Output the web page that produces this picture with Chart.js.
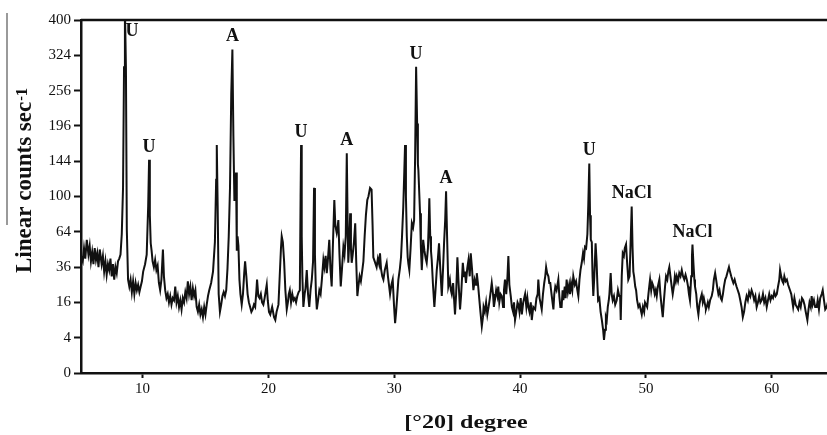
<!DOCTYPE html>
<html>
<head>
<meta charset="utf-8">
<script src="https://cdn.jsdelivr.net/npm/chart.js@4.4.0/dist/chart.umd.min.js"></script>
<style>
  html, body { margin: 0; padding: 0; background: #fff; }
  #wrap { width: 827px; height: 435px; }
</style>
</head>
<body>
<div id="wrap"><canvas id="xrdChart" width="827" height="435"></canvas></div>
<script>
// powder pattern, [2θ in degrees, counts per second]
const scan = [
  [5.11, 44], [5.25, 40], [5.35, 50], [5.45, 42], [5.57, 57], [5.7, 45], [5.8, 52], [5.9, 40],
  [6.0, 47], [6.1, 38], [6.2, 50], [6.3, 41], [6.4, 46], [6.5, 36], [6.6, 49], [6.75, 38],
  [6.85, 44], [6.95, 33], [7.05, 40], [7.15, 31], [7.25, 38], [7.35, 34], [7.45, 42], [7.55, 30],
  [7.65, 38], [7.75, 28], [7.85, 36], [7.95, 32], [8.05, 40], [8.15, 42], [8.25, 45], [8.35, 62],
  [8.45, 110], [8.53, 300], [8.6, 430], [8.68, 300], [8.75, 66], [8.85, 28], [8.95, 24], [9.05, 28],
  [9.15, 21], [9.25, 27], [9.35, 20], [9.45, 26], [9.55, 22], [9.65, 25], [9.75, 21], [9.85, 24],
  [9.95, 27], [10.05, 33], [10.2, 38], [10.33, 45], [10.45, 90], [10.52, 146], [10.58, 80], [10.65, 54],
  [10.72, 48], [10.8, 40], [10.9, 36], [11.0, 41], [11.1, 34], [11.2, 37], [11.3, 26], [11.4, 22],
  [11.5, 28], [11.62, 49], [11.7, 30], [11.8, 22], [11.9, 18], [12.0, 20], [12.1, 16], [12.2, 19],
  [12.3, 15], [12.4, 18], [12.5, 17], [12.6, 24], [12.7, 16], [12.8, 19], [12.9, 14], [13.0, 17],
  [13.1, 13], [13.2, 18], [13.3, 16], [13.4, 21], [13.5, 18], [13.6, 27], [13.7, 20], [13.8, 24],
  [13.9, 17], [14.0, 23], [14.1, 19], [14.2, 22], [14.3, 14], [14.4, 12], [14.5, 15], [14.6, 11],
  [14.7, 13], [14.8, 10], [14.9, 14], [15.0, 11], [15.1, 15], [15.2, 19], [15.3, 22], [15.45, 26],
  [15.6, 33], [15.75, 55], [15.85, 120], [15.9, 167], [15.97, 90], [16.05, 20], [16.15, 12], [16.25, 15],
  [16.35, 19], [16.45, 21], [16.55, 19], [16.65, 22], [16.75, 35], [16.85, 60], [16.95, 110], [17.05, 250],
  [17.14, 336], [17.22, 180], [17.3, 95], [17.38, 105], [17.43, 129], [17.49, 48], [17.55, 60], [17.62, 52],
  [17.7, 28], [17.78, 20], [17.88, 15], [17.98, 20], [18.08, 32], [18.15, 40], [18.25, 30], [18.35, 20],
  [18.45, 16], [18.55, 14], [18.65, 12], [18.75, 13], [18.85, 15], [18.95, 14], [19.05, 22], [19.1, 28],
  [19.2, 19], [19.3, 18], [19.4, 20], [19.5, 16], [19.6, 15], [19.7, 18], [19.8, 22], [19.87, 25],
  [19.95, 17], [20.05, 12], [20.15, 11], [20.3, 14], [20.45, 10], [20.55, 9], [20.65, 12], [20.8, 15],
  [20.9, 30], [21.0, 50], [21.06, 60], [21.15, 55], [21.25, 40], [21.35, 22], [21.46, 13], [21.55, 16],
  [21.62, 20], [21.7, 22], [21.8, 16], [21.9, 20], [22.0, 17], [22.1, 18], [22.2, 16], [22.3, 19],
  [22.4, 21], [22.5, 22], [22.56, 100], [22.6, 167], [22.65, 60], [22.7, 30], [22.78, 14], [22.88, 20],
  [22.95, 23], [23.05, 34], [23.15, 20], [23.25, 14], [23.35, 22], [23.45, 28], [23.55, 40], [23.63, 110],
  [23.7, 45], [23.78, 20], [23.85, 13], [23.95, 17], [24.05, 22], [24.15, 20], [24.25, 28], [24.37, 41],
  [24.45, 36], [24.55, 44], [24.64, 32], [24.72, 40], [24.84, 57], [24.93, 35], [25.03, 24], [25.12, 50],
  [25.24, 96], [25.32, 70], [25.43, 63], [25.5, 68], [25.56, 75], [25.65, 45], [25.75, 24], [25.85, 35],
  [25.96, 51], [26.05, 45], [26.15, 60], [26.23, 155], [26.3, 70], [26.35, 39], [26.43, 55], [26.5, 82],
  [26.56, 50], [26.62, 39], [26.7, 45], [26.8, 55], [26.9, 72], [26.98, 40], [27.07, 19], [27.15, 24],
  [27.25, 30], [27.35, 27], [27.45, 33], [27.55, 40], [27.65, 60], [27.75, 80], [27.86, 96], [27.95, 100],
  [28.08, 110], [28.2, 108], [28.28, 70], [28.34, 43], [28.45, 40], [28.6, 36], [28.7, 42], [28.8, 38],
  [28.87, 46], [28.95, 35], [29.05, 30], [29.14, 28], [29.25, 34], [29.4, 39], [29.5, 30], [29.6, 24],
  [29.67, 20], [29.78, 25], [29.88, 28], [29.98, 15], [30.07, 8], [30.15, 12], [30.25, 20], [30.33, 28],
  [30.45, 35], [30.54, 43], [30.62, 60], [30.72, 89], [30.8, 130], [30.86, 167], [30.93, 100], [31.0, 60],
  [31.07, 43], [31.13, 38], [31.2, 34], [31.3, 50], [31.4, 72], [31.5, 68], [31.58, 75], [31.66, 150],
  [31.74, 301], [31.82, 200], [31.88, 140], [31.92, 132], [32.0, 100], [32.05, 82], [32.12, 50], [32.19, 34],
  [32.25, 45], [32.3, 57], [32.4, 48], [32.5, 42], [32.58, 39], [32.68, 50], [32.75, 75], [32.79, 98],
  [32.86, 60], [32.92, 48], [32.98, 41], [33.08, 25], [33.19, 14], [33.28, 22], [33.38, 34], [33.47, 42],
  [33.56, 54], [33.66, 35], [33.78, 19], [33.88, 35], [33.96, 54], [34.05, 75], [34.12, 106], [34.2, 60],
  [34.3, 24], [34.42, 28], [34.5, 22], [34.57, 20], [34.68, 26], [34.75, 18], [34.83, 11], [34.92, 20],
  [35.02, 43], [35.1, 28], [35.23, 13], [35.32, 20], [35.45, 39], [35.55, 30], [35.62, 33], [35.7, 26],
  [35.8, 35], [35.9, 41], [36.0, 30], [36.08, 46], [36.18, 35], [36.29, 22], [36.4, 28], [36.5, 25],
  [36.56, 32], [36.65, 26], [36.74, 19], [36.85, 12], [36.96, 7], [37.05, 10], [37.1, 14], [37.2, 12],
  [37.3, 16], [37.4, 11], [37.5, 14], [37.6, 18], [37.68, 22], [37.75, 26], [37.85, 20], [37.92, 14],
  [38.0, 17], [38.1, 22], [38.2, 19], [38.27, 24], [38.35, 16], [38.45, 20], [38.55, 19], [38.65, 14],
  [38.72, 22], [38.8, 28], [38.9, 20], [39.0, 30], [39.07, 44], [39.15, 25], [39.26, 19], [39.35, 14],
  [39.45, 12], [39.52, 16], [39.6, 9], [39.7, 12], [39.8, 16], [39.87, 15], [39.95, 12], [40.05, 18],
  [40.14, 11], [40.25, 16], [40.4, 20], [40.5, 14], [40.58, 18], [40.66, 14], [40.75, 12], [40.85, 16],
  [40.93, 9], [41.05, 14], [41.2, 13], [41.3, 18], [41.4, 20], [41.45, 28], [41.55, 18], [41.65, 15],
  [41.72, 13], [41.82, 20], [41.92, 26], [42.0, 30], [42.07, 36], [42.15, 32], [42.25, 30], [42.32, 26],
  [42.4, 26], [42.5, 20], [42.58, 16], [42.65, 13], [42.72, 20], [42.8, 24], [42.9, 22], [43.04, 28],
  [43.12, 19], [43.2, 14], [43.3, 14], [43.38, 22], [43.44, 17], [43.55, 24], [43.62, 18], [43.7, 28],
  [43.8, 21], [43.9, 25], [43.97, 20], [44.05, 26], [44.15, 22], [44.23, 30], [44.35, 25], [44.45, 27],
  [44.55, 22], [44.63, 19], [44.72, 28], [44.8, 34], [44.9, 39], [45.0, 46], [45.08, 42], [45.16, 51],
  [45.25, 50], [45.35, 62], [45.42, 90], [45.5, 141], [45.56, 80], [45.62, 57], [45.7, 55], [45.76, 30],
  [45.82, 19], [45.9, 30], [46.0, 54], [46.08, 40], [46.14, 26], [46.2, 17], [46.3, 18], [46.4, 12],
  [46.5, 9], [46.6, 6], [46.67, 3.5], [46.75, 6], [46.82, 10], [46.89, 9], [46.97, 14], [47.05, 17],
  [47.1, 20], [47.2, 32], [47.28, 20], [47.36, 17], [47.46, 19], [47.56, 15], [47.68, 17], [47.78, 22],
  [47.88, 19], [47.95, 19], [48.0, 9], [48.08, 30], [48.16, 46], [48.25, 44], [48.32, 50], [48.42, 53],
  [48.5, 40], [48.6, 28], [48.7, 30], [48.8, 60], [48.87, 89], [48.94, 50], [49.0, 33], [49.06, 30],
  [49.15, 24], [49.22, 22], [49.3, 17], [49.4, 14], [49.5, 15], [49.58, 13], [49.67, 11], [49.76, 14],
  [49.86, 12], [49.93, 16], [50.0, 16], [50.1, 14], [50.2, 20], [50.28, 25], [50.33, 28], [50.42, 22],
  [50.5, 26], [50.6, 24], [50.7, 20], [50.78, 22], [50.86, 19], [50.95, 24], [51.07, 28], [51.15, 20],
  [51.25, 14], [51.34, 10], [51.42, 16], [51.52, 24], [51.6, 30], [51.7, 28], [51.78, 33], [51.86, 36],
  [51.95, 30], [52.05, 24], [52.13, 20], [52.22, 24], [52.3, 30], [52.38, 27], [52.45, 30], [52.55, 27],
  [52.65, 32], [52.75, 30], [52.85, 34], [52.95, 30], [53.05, 28], [53.15, 31], [53.25, 28], [53.35, 24],
  [53.42, 20], [53.5, 17], [53.6, 30], [53.66, 44], [53.7, 53], [53.78, 38], [53.85, 28], [53.9, 24],
  [54.0, 20], [54.08, 14], [54.17, 11], [54.25, 15], [54.35, 18], [54.44, 20], [54.52, 16], [54.6, 18],
  [54.7, 15], [54.77, 13], [54.83, 14], [54.92, 16], [55.0, 14], [55.1, 17], [55.23, 19], [55.32, 22],
  [55.4, 28], [55.5, 32], [55.58, 28], [55.66, 24], [55.76, 20], [55.85, 22], [55.95, 18], [56.03, 17],
  [56.12, 20], [56.2, 24], [56.3, 28], [56.4, 30], [56.5, 33], [56.6, 36], [56.68, 33], [56.78, 30],
  [56.86, 28], [56.95, 26], [57.05, 28], [57.12, 26], [57.2, 24], [57.3, 22], [57.4, 20], [57.5, 17],
  [57.6, 14], [57.7, 10], [57.8, 12], [57.9, 16], [58.0, 19], [58.1, 17], [58.2, 21], [58.3, 19],
  [58.4, 22], [58.5, 20], [58.6, 17], [58.7, 19], [58.8, 14], [58.9, 16], [59.0, 19], [59.1, 16],
  [59.2, 17], [59.3, 20], [59.4, 16], [59.5, 18], [59.6, 14], [59.7, 17], [59.8, 20], [59.9, 17],
  [60.0, 19], [60.1, 18], [60.2, 21], [60.3, 19], [60.4, 20], [60.5, 24], [60.6, 28], [60.66, 34],
  [60.75, 30], [60.85, 27], [60.92, 26], [61.0, 30], [61.1, 27], [61.2, 28], [61.3, 25], [61.45, 22],
  [61.55, 20], [61.62, 17], [61.7, 14], [61.8, 18], [61.9, 15], [62.0, 14], [62.1, 13], [62.2, 16],
  [62.3, 14], [62.4, 18], [62.5, 17], [62.6, 15], [62.7, 12], [62.83, 9], [62.92, 13], [63.0, 16],
  [63.1, 14], [63.17, 19], [63.25, 15], [63.35, 17], [63.45, 14], [63.57, 14], [63.65, 17], [63.75, 13],
  [63.85, 18], [63.97, 20], [64.05, 22], [64.15, 17], [64.25, 13], [64.37, 14], [64.45, 16]
];

const xTicks = [10, 20, 30, 40, 50, 60];
const yTicks = [0, 4, 16, 36, 64, 100, 144, 196, 256, 324, 400];

// phase assignments of the marked reflections
const peakNames = ['U', 'U', 'A', 'U', 'A', 'U', 'A', 'U', 'NaCl', 'NaCl'];
const peakAt = [8.6, 10.52, 17.14, 22.6, 26.23, 31.74, 34.12, 45.5, 48.87, 53.7];

const serif = '"Liberation Serif", "Times New Roman", serif';

// square-root intensity axis: ticks 0,4,16,... end up evenly spaced
class SqrtScale extends Chart.LinearScale {
  configure() {
    super.configure();
    this._rootStart = Math.sqrt(Math.max(this.min, 0));
    this._rootRange = Math.sqrt(this.max) - this._rootStart;
  }
  getPixelForValue(value) {
    if (value === null || isNaN(value)) return NaN;
    return this.getPixelForDecimal((Math.sqrt(Math.max(value, 0)) - this._rootStart) / this._rootRange);
  }
  getValueForPixel(pixel) {
    const r = this._rootStart + this.getDecimalForPixel(pixel) * this._rootRange;
    return r * r;
  }
}
SqrtScale.id = 'sqrt';
SqrtScale.defaults = {};
Chart.register(SqrtScale);

const frame = {
  id: 'frame',
  afterDraw(chart) {
    const { ctx, chartArea } = chart;
    ctx.save();

    // top border
    ctx.strokeStyle = '#111';
    ctx.lineWidth = 2.5;
    ctx.beginPath();
    ctx.moveTo(chartArea.left, chartArea.top);
    ctx.lineTo(chartArea.right, chartArea.top);
    ctx.stroke();

    // rule beside the y title
    ctx.strokeStyle = '#9a9a9a';
    ctx.lineWidth = 2;
    ctx.beginPath();
    ctx.moveTo(7, 13);
    ctx.lineTo(7, 225);
    ctx.stroke();

    ctx.fillStyle = '#111';

    // y title with superscript
    ctx.save();
    ctx.translate(31, 273);
    ctx.rotate(-Math.PI / 2);
    ctx.textAlign = 'left';
    ctx.textBaseline = 'alphabetic';
    ctx.font = `bold 23px ${serif}`;
    const main = 'Linear counts sec';
    ctx.fillText(main, 0, 0);
    let u = ctx.measureText(main).width + 1;
    ctx.font = `bold 14px ${serif}`;
    ctx.fillText('-', u, -6);
    u += ctx.measureText('-').width;
    ctx.font = `bold 17px ${serif}`;
    ctx.fillText('1', u, -4);
    ctx.restore();

    // x title
    ctx.save();
    ctx.translate(466, 428);
    ctx.scale(1.3, 1);
    ctx.textAlign = 'center';
    ctx.textBaseline = 'alphabetic';
    ctx.font = `bold 18.5px ${serif}`;
    ctx.fillText('[°20] degree', 0, 0);
    ctx.restore();

    ctx.restore();
  }
};

const peakLabels = {
  id: 'peakLabels',
  afterDatasetsDraw(chart) {
    const { ctx, chartArea, scales: { x, y } } = chart;
    ctx.save();
    ctx.font = `bold 18px ${serif}`;
    ctx.fillStyle = '#111';
    ctx.textAlign = 'center';
    ctx.textBaseline = 'alphabetic';
    peakNames.forEach((name, i) => {
      const at = peakAt[i];
      let top = 0;
      scan.forEach(([t, c]) => { if (Math.abs(t - at) <= 0.1 && c > top) top = c; });
      let px = x.getPixelForValue(at);
      let py = y.getPixelForValue(Math.min(top, y.max)) - 8;
      if (py < chartArea.top + 16) {
        py = chartArea.top + 16;
        px += 7;
      }
      ctx.fillText(name, px, py);
    });
    ctx.restore();
  }
};

new Chart(document.getElementById('xrdChart'), {
  type: 'line',
  data: {
    datasets: [{
      data: scan.map(([t, c]) => ({ x: t, y: c })),
      borderColor: '#111',
      borderWidth: 2,
      pointRadius: 0,
      tension: 0
    }]
  },
  options: {
    responsive: false,
    animation: false,
    devicePixelRatio: 1,
    layout: { padding: { top: 20, left: 0, right: 0, bottom: 0 } },
    plugins: {
      legend: { display: false },
      tooltip: { enabled: false }
    },
    scales: {
      x: {
        type: 'linear',
        min: 5.11,
        max: 64.39,
        afterBuildTicks: s => { s.ticks = xTicks.map(v => ({ value: v })); },
        afterFit: s => { s.height = 62; },
        grid: { drawOnChartArea: false, tickLength: 5, tickWidth: 2, tickColor: '#111' },
        border: { color: '#111', width: 2.5 },
        ticks: { font: { family: serif, size: 15 }, color: '#111', padding: 2, maxRotation: 0 }
      },
      y: {
        type: 'sqrt',
        min: 0,
        max: 400,
        afterBuildTicks: s => { s.ticks = yTicks.map(v => ({ value: v })); },
        afterFit: s => { s.width = 81; },
        grid: { drawOnChartArea: false, tickLength: 7, tickWidth: 2, tickColor: '#111' },
        border: { color: '#111', width: 2.5 },
        ticks: { font: { family: serif, size: 15 }, color: '#111', padding: 3, callback: v => String(v) }
      }
    }
  },
  plugins: [frame, peakLabels]
});
</script>
</body>
</html>
